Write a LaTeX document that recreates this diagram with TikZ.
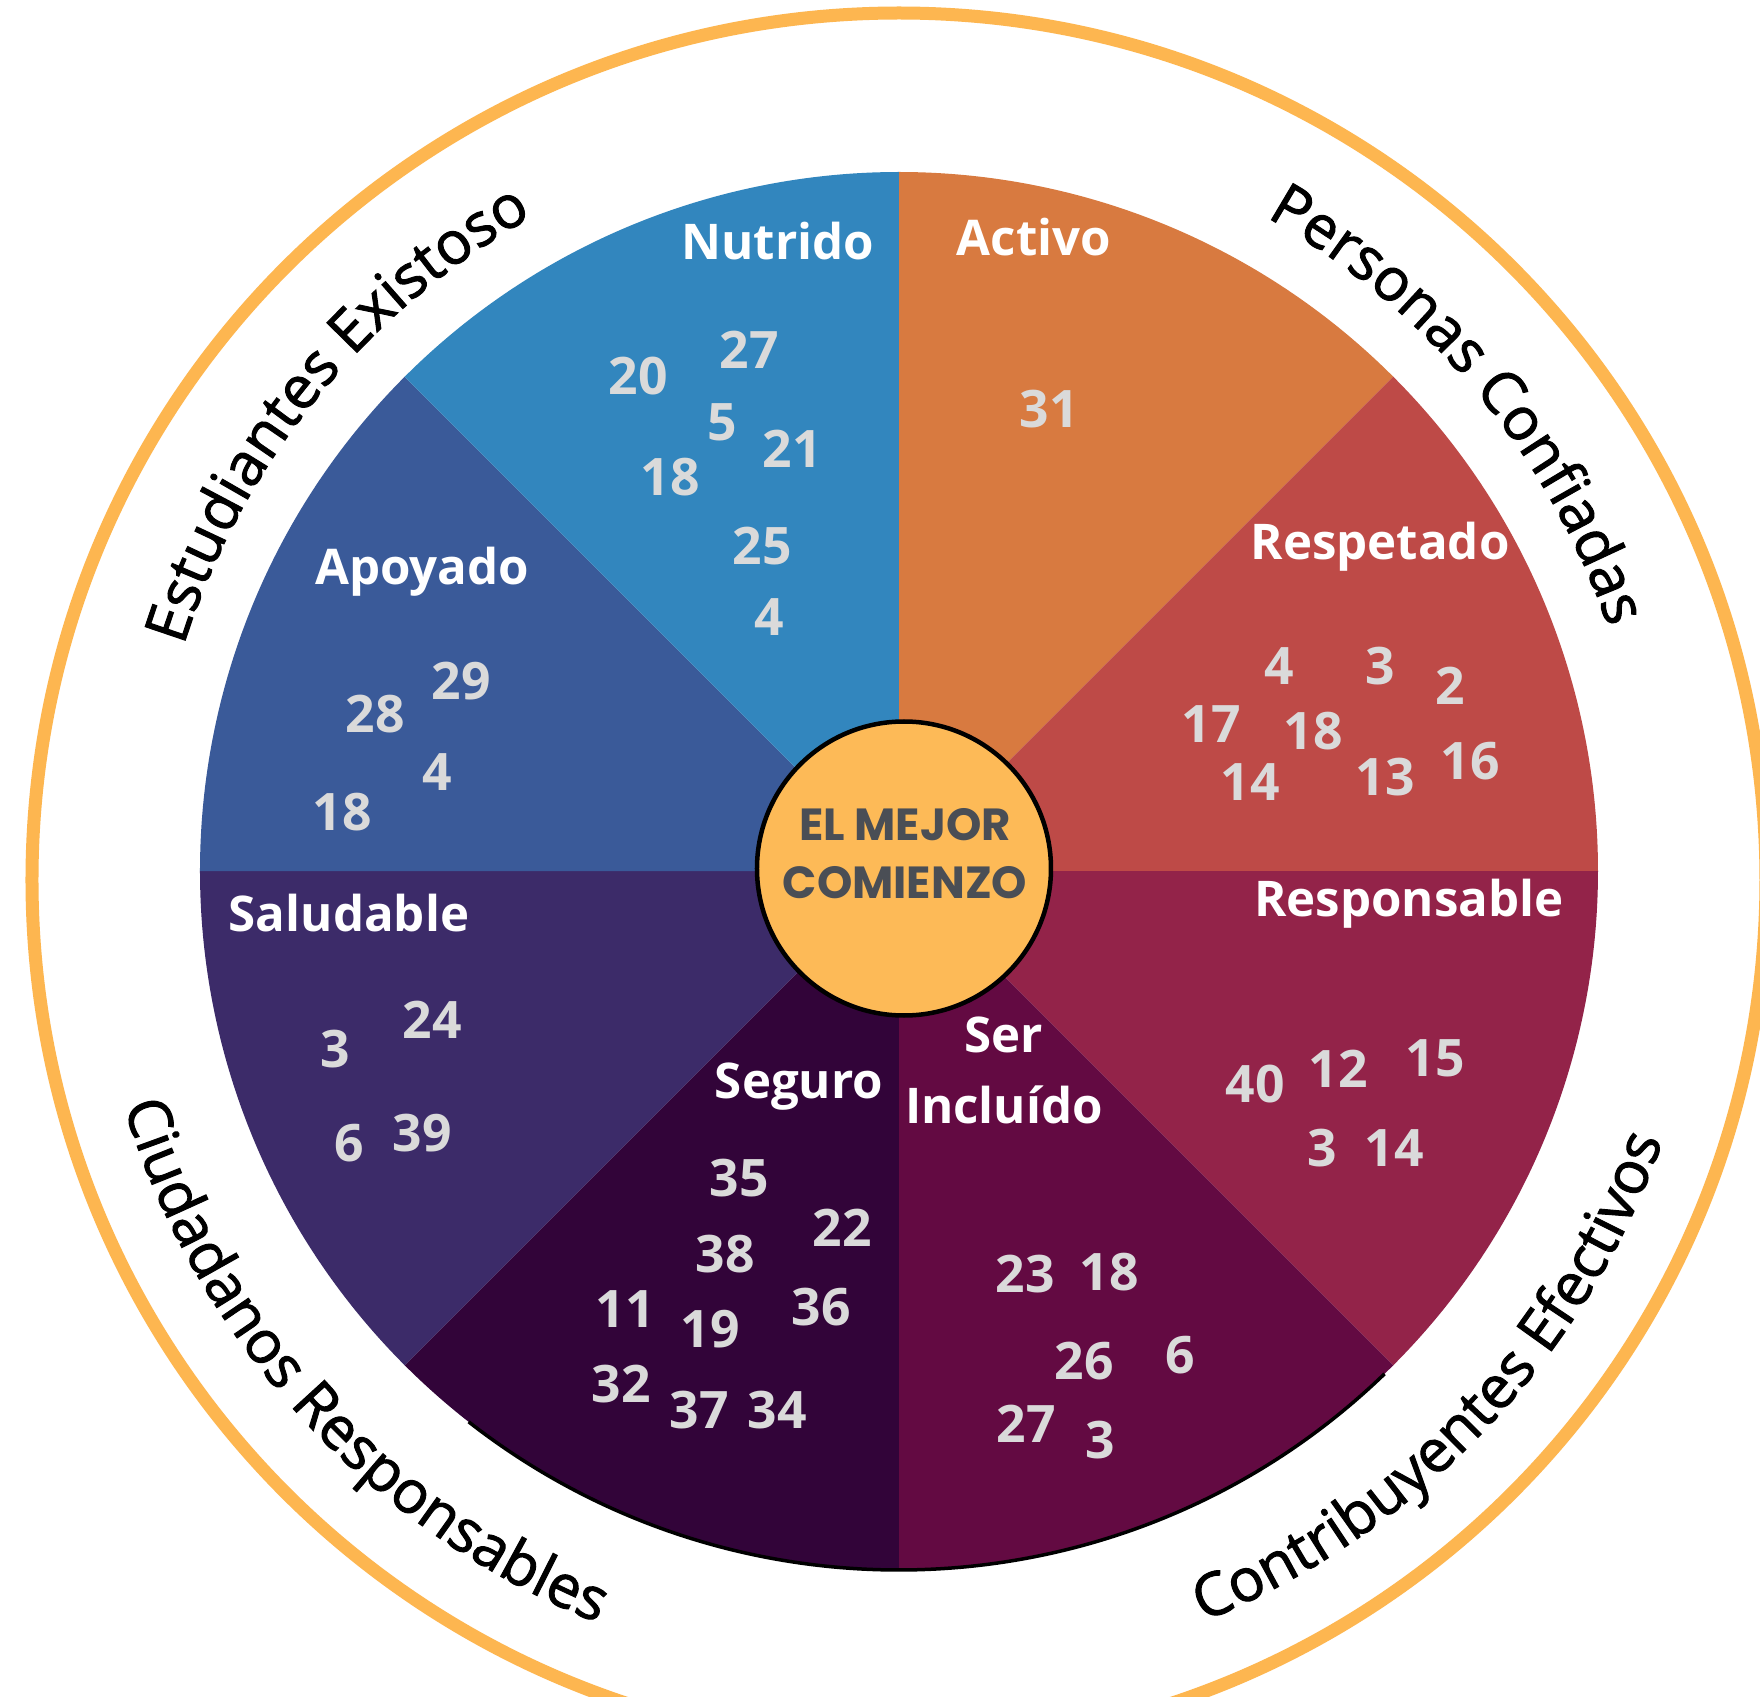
\documentclass[tikz,border=0pt]{standalone}
\usepackage{fontspec}
\setmainfont{Open Sans}
\newfontfamily\corefont{Poppins}
\newfontfamily\ringface{Open Sans}[FakeBold=1.6]
\newcommand\ringfont{\fontsize{16.9}{20}\selectfont\ringface}
\usetikzlibrary{decorations.text}

\definecolor{nutrido}{HTML}{3286BE}
\definecolor{activo}{HTML}{D87A40}
\definecolor{respetado}{HTML}{BE4A47}
\definecolor{responsable}{HTML}{932349}
\definecolor{incluido}{HTML}{630A42}
\definecolor{seguro}{HTML}{320439}
\definecolor{saludable}{HTML}{3C2B69}
\definecolor{apoyado}{HTML}{3A5A99}
\definecolor{corefill}{HTML}{FDBA57}
\definecolor{coretext}{HTML}{4A4E55}
\definecolor{numgray}{HTML}{DADADA}
\definecolor{ringorange}{HTML}{FDB650}

\begin{document}
\begin{tikzpicture}[every node/.style={inner sep=0pt},semithick]
  \tikzstyle{wheel label}=[anchor=base,text=white,font=\fontsize{14}{17}\selectfont\bfseries]
  \tikzstyle{num}=[anchor=base,text=numgray,font=\fontsize{14.7}{17}\selectfont\bfseries]
  \tikzstyle{core text}=[anchor=base,text=coretext,font=\fontsize{12.8}{15}\selectfont\corefont\bfseries]
  \tikzstyle{ring text}=[decorate,decoration={text along path,text align=center,text={|\ringfont|#1}}]

  \useasboundingbox (-8.99,-8.26) rectangle (8.61,8.71);
  \clip (-8.99,-8.26) rectangle (8.61,8.71);
  \fill[white] (-8.99,-8.26) rectangle (8.61,8.71);

  % wheel
  \fill[activo]      (0,0) -- (90:6.99)  arc[start angle=90,  end angle=45,   radius=6.99] -- cycle;
  \fill[respetado]   (0,0) -- (45:6.99)  arc[start angle=45,  end angle=0,    radius=6.99] -- cycle;
  \fill[responsable] (0,0) -- (0:6.99)   arc[start angle=0,   end angle=-45,  radius=6.99] -- cycle;
  \fill[incluido]    (0,0) -- (-45:6.99) arc[start angle=-45, end angle=-90,  radius=6.99] -- cycle;
  \fill[seguro]      (0,0) -- (-90:6.99) arc[start angle=270, end angle=225,  radius=6.99] -- cycle;
  \fill[saludable]   (0,0) -- (225:6.99) arc[start angle=225, end angle=180,  radius=6.99] -- cycle;
  \fill[apoyado]     (0,0) -- (180:6.99) arc[start angle=180, end angle=135,  radius=6.99] -- cycle;
  \fill[nutrido]     (0,0) -- (135:6.99) arc[start angle=135, end angle=90,   radius=6.99] -- cycle;
  \draw[black,line width=0.035cm] (232:6.99) arc[start angle=232, end angle=314, radius=6.99];

  % centre
  \node[circle,draw=black,line width=0.045cm,fill=corefill,minimum size=2.94cm] (core) at (0.05,0.025) {};
  \node[core text] (mejor)    at (0.06,0.31)  {EL MEJOR};
  \node[core text] (comienzo) at (0.06,-0.27) {COMIENZO};

  % sector labels
  \node[wheel label] (nutridoL)     at (-1.21,6.11) {Nutrido};
  \node[wheel label] (activoL)      at (1.35,6.15)  {Activo};
  \node[wheel label] (respetadoL)   at (4.81,3.11)  {Respetado};
  \node[wheel label] (apoyadoL)     at (-4.77,2.86) {Apoyado};
  \node[wheel label] (saludableL)   at (-5.50,-0.60) {Saludable};
  \node[wheel label] (responsableL) at (5.10,-0.45) {Responsable};
  \node[wheel label] (seguroL)      at (-1.00,-2.27) {Seguro};
  \node[wheel label] (serL)         at (1.05,-1.81) {Ser};
  \node[wheel label] (incluidoL)    at (1.05,-2.52) {Incluído};

  % Nutrido
  \node[num] (nut27) at (-1.50,5.02) {27};
  \node[num] (nut20) at (-2.61,4.76) {20};
  \node[num] (nut5)  at (-1.77,4.30) {5};
  \node[num] (nut21) at (-1.07,4.03) {21};
  \node[num] (nut18) at (-2.29,3.75) {18};
  \node[num] (nut25) at (-1.37,3.06) {25};
  \node[num] (nut4)  at (-1.30,2.36) {4};
  % Apoyado
  \node[num] (apo29) at (-4.38,1.71) {29};
  \node[num] (apo28) at (-5.24,1.38) {28};
  \node[num] (apo4)  at (-4.62,0.80) {4};
  \node[num] (apo18) at (-5.57,0.41) {18};
  % Activo
  \node[num] (act31) at (1.50,4.43) {31};
  % Respetado
  \node[num] (res4)  at (3.80,1.87) {4};
  \node[num] (res3)  at (4.81,1.87) {3};
  \node[num] (res2)  at (5.51,1.66) {2};
  \node[num] (res17) at (3.12,1.28) {17};
  \node[num] (res18) at (4.14,1.21) {18};
  \node[num] (res14) at (3.51,0.70) {14};
  \node[num] (res13) at (4.86,0.76) {13};
  \node[num] (res16) at (5.71,0.91) {16};
  % Saludable
  \node[num] (sal24) at (-4.67,-1.68) {24};
  \node[num] (sal3)  at (-5.64,-1.96) {3};
  \node[num] (sal6)  at (-5.50,-2.90) {6};
  \node[num] (sal39) at (-4.77,-2.80) {39};
  % Seguro
  \node[num] (seg35) at (-1.60,-3.25) {35};
  \node[num] (seg22) at (-0.57,-3.75) {22};
  \node[num] (seg38) at (-1.74,-4.01) {38};
  \node[num] (seg11) at (-2.74,-4.56) {11};
  \node[num] (seg19) at (-1.89,-4.76) {19};
  \node[num] (seg36) at (-0.78,-4.54) {36};
  \node[num] (seg32) at (-2.78,-5.31) {32};
  \node[num] (seg37) at (-2.00,-5.57) {37};
  \node[num] (seg34) at (-1.22,-5.57) {34};
  % Responsable
  \node[num] (rsp40) at (3.56,-2.31) {40};
  \node[num] (rsp12) at (4.39,-2.16) {12};
  \node[num] (rsp15) at (5.36,-2.05) {15};
  \node[num] (rsp3)  at (4.23,-2.95) {3};
  \node[num] (rsp14) at (4.95,-2.95) {14};
  % Ser Incluido
  \node[num] (inc23) at (1.26,-4.21) {23};
  \node[num] (inc18) at (2.10,-4.19) {18};
  \node[num] (inc26) at (1.85,-5.08) {26};
  \node[num] (inc6)  at (2.81,-5.02) {6};
  \node[num] (inc27) at (1.27,-5.71) {27};
  \node[num] (inc3)  at (2.01,-5.87) {3};

  % outer ring
  \draw[ringorange,line width=0.13cm] (0,-0.09) circle (8.67);
  \path[ring text={Estudiantes Existoso}]
    (175.9:7.50) arc[start angle=175.9, end angle=105.9, radius=7.50];
  \path[ring text={Personas Confiadas}]
    (74.8:7.50) arc[start angle=74.8, end angle=4.8, radius=7.50];
  \path[ring text={Ciudadanos Responsables}]
    (187.5:8.10) arc[start angle=187.5, end angle=257.5, radius=8.10];
  \path[ring text={Contribuyentes Efectivos}]
    (281.3:8.10) arc[start angle=281.3, end angle=351.3, radius=8.10];
\end{tikzpicture}
\end{document}
